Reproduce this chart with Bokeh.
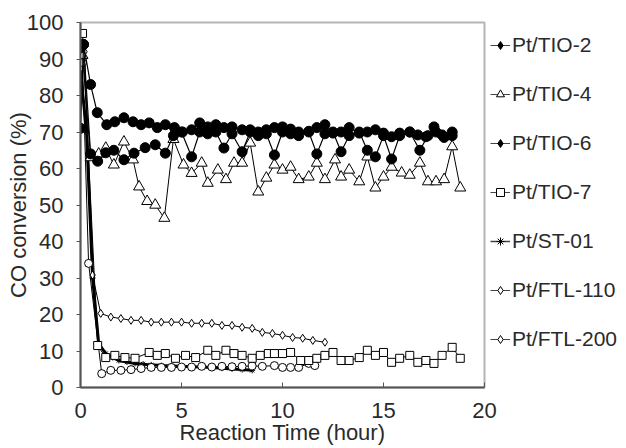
import math
from bokeh.plotting import figure
from bokeh.models import Legend, LegendItem, SingleIntervalTicker, Range1d
from bokeh.embed import file_html
from bokeh.resources import INLINE

# ---------------- data ----------------
tio2_t = [0.0, 0.15, 0.5, 0.83, 1.3, 1.7, 2.15, 2.6, 3.0, 3.4, 3.8, 4.2, 4.65, 5.05, 5.5, 5.9, 6.3, 6.7,
          7.1, 7.5, 8.0, 8.4, 8.8, 9.2, 9.6, 10.0, 10.4, 10.8, 11.3, 11.7, 12.1, 12.5, 12.9, 13.3, 13.8,
          14.2, 14.6, 15.0, 15.4, 15.8, 16.3, 16.7, 17.1, 17.5, 17.9, 18.4]
tio2_v = [71, 94, 83, 75.3, 72, 72.8, 73.9, 72.8, 72, 72.5, 71.2, 72, 71.2, 70, 70.6, 72.5, 71.4, 72,
          71.2, 71.4, 70.6, 70.6, 70, 70.6, 71.2, 71.4, 70.8, 70, 70.2, 71.2, 72, 69.7, 70, 71.2, 69.7,
          70, 70.6, 69.7, 68.7, 69.7, 70, 69.2, 68.7, 71.4, 69.2, 70]

tio4_t = [0.1, 0.5, 0.9, 1.25, 1.65, 2.15, 2.6, 2.9, 3.3, 3.7, 4.15, 4.6, 5.1, 5.5, 6.0, 6.3, 6.8, 7.2,
          7.6, 8.0, 8.4, 8.8, 9.2, 9.6, 10.0, 10.4, 10.8, 11.3, 11.7, 12.1, 12.6, 12.9, 13.3, 13.8, 14.2,
          14.6, 15.0, 15.4, 15.9, 16.3, 16.8, 17.2, 17.6, 18.0, 18.4, 18.8]
tio4_v = [91, 63, 64, 65.6, 61, 67.3, 62.4, 55, 51, 50, 46.4, 68, 61, 58.7, 61.5, 56, 59.6, 57,
          61.5, 61.5, 67, 53.6, 57.4, 61, 59.6, 60.4, 57, 57.7, 61.5, 57, 62.4, 57.7, 59.6, 56.4, 63.2,
          54.7, 57.7, 60.4, 58.8, 58.2, 61.5, 56.4, 56.4, 57, 66, 54.7]

tio6_t = [0.0, 0.15, 0.5, 0.85, 1.25, 1.65, 2.15, 2.65, 3.2, 3.7, 4.2, 4.6, 5.0, 5.5, 5.9, 6.3, 6.7,
          7.1, 7.5, 8.0, 8.4, 8.8, 9.2, 9.6, 10.0, 10.4, 10.8, 11.3, 11.7, 12.1, 12.5, 12.9, 13.3, 13.8,
          14.2, 14.6, 15.0, 15.4, 15.8, 16.3, 16.8, 17.2, 17.6, 18.0, 18.4]
tio6_v = [93, 94, 64, 62, 64.3, 65, 62.4, 64.2, 65.7, 66.5, 64.2, 69, 70, 63.2, 70, 69.5, 70,
          65.6, 69.5, 64.6, 70, 69, 69.5, 63.7, 70, 69.5, 69, 70, 64, 69.5, 70, 64.6, 69, 70,
          65, 63.2, 69, 62.6, 69, 70, 65, 69, 70, 68.5, 69]

tio7_t = [0.1, 0.85, 1.25, 1.7, 2.2, 2.7, 3.4, 3.8, 4.2, 4.7, 5.2, 5.7, 6.3, 6.7, 7.2, 7.6, 8.0, 8.5,
          8.9, 9.3, 9.6, 10.0, 10.4, 10.9, 11.3, 11.7, 12.1, 12.5, 12.9, 13.3, 13.8, 14.2, 14.6, 15.0,
          15.4, 15.8, 16.3, 16.7, 17.1, 17.5, 17.9, 18.4, 18.8]
tio7_v = [97, 11.5, 8.2, 8.8, 8.2, 8, 9.6, 8.8, 9.3, 8, 8.8, 8.2, 10.2, 8.8, 10.2, 9.3, 8.8, 8,
          8.8, 9.3, 9.3, 9.3, 9.6, 7.4, 7.4, 8, 8.8, 9.6, 7.4, 7.4, 8.2, 10.2, 8.8, 9.6,
          6.9, 8, 8.8, 6.9, 7.4, 6.6, 8.8, 11, 8]

st01_t = [0.0, 0.3, 0.6, 0.9, 1.25, 1.6, 1.9, 2.3, 2.7, 3.1, 3.5, 4.0, 4.5, 5.0, 5.5, 6.0, 6.5, 7.0,
          7.5, 8.0, 8.5]
st01_v = [86.5, 70, 30, 12, 9.3, 8.2, 7.4, 7.0, 6.6, 6.4, 6.2, 6.0, 5.9, 5.8, 5.7, 5.6, 5.5, 5.3,
          5.1, 4.9, 4.7]

ftl110_t = [0.1, 0.4, 1.05, 1.5, 2.0, 2.5, 3.0, 3.5, 4.0, 4.5, 5.0, 5.5, 6.0, 6.5, 7.0, 7.5, 8.0, 8.5,
            9.0, 9.6, 10.0, 10.4, 10.8, 11.3, 11.6]
ftl110_v = [89, 34, 3.8, 4.7, 4.7, 4.9, 5.2, 5.5, 5.5, 5.5, 5.6, 5.6, 5.8, 5.6, 5.8, 5.7, 5.8, 5.9,
            5.8, 6.0, 5.5, 5.5, 5.5, 6.6, 6.0]

ftl200_t = [0.2, 0.6, 1.0, 1.5, 2.0, 2.5, 3.0, 3.5, 4.0, 4.5, 5.0, 5.5, 6.0, 6.5, 7.0, 7.5, 8.0, 8.5,
            9.0, 9.5, 10.0, 10.5, 11.0, 11.5, 12.1]
ftl200_v = [92, 30.8, 20.3, 19.3, 18.9, 18.4, 18.4, 17.9, 17.9, 17.9, 17.9, 17.6, 17.6, 17.6, 17.0,
            17.0, 16.5, 16.2, 15.1, 14.8, 14.3, 13.7, 13.5, 12.9, 12.4]

labels = ["Pt/TIO-2", "Pt/TIO-4", "Pt/TIO-6", "Pt/TIO-7", "Pt/ST-01", "Pt/FTL-110", "Pt/FTL-200"]
y_ticks_interval = 10
x_ticks_interval = 5

# ---------------- figure ----------------
FONT = "Liberation Sans"
TXT = "#2a2a2a"

p = figure(frame_width=404, frame_height=365, output_backend="svg", toolbar_location=None,
           x_range=Range1d(0, 20), y_range=Range1d(0, 100),
           min_border_left=80, min_border_right=10, min_border_top=22, min_border_bottom=61)
p.xgrid.visible = False
p.ygrid.visible = False
p.outline_line_color = "#b5b5b5"
p.outline_line_width = 2
p.background_fill_color = "white"

p.xaxis.ticker = SingleIntervalTicker(interval=x_ticks_interval)
p.yaxis.ticker = SingleIntervalTicker(interval=y_ticks_interval)
for ax in (p.xaxis, p.yaxis):
    ax.axis_line_color = "#555555"
    ax.axis_line_width = 2
    ax.major_tick_line_color = "#555555"
    ax.minor_tick_line_color = None
    ax.major_label_text_font = FONT
    ax.major_label_text_font_size = "22px"
    ax.major_label_text_color = TXT
    ax.axis_label_text_font = FONT
    ax.axis_label_text_font_size = "22px"
    ax.axis_label_text_font_style = "normal"
    ax.axis_label_text_color = TXT
p.xaxis.major_tick_in = 5
p.xaxis.major_tick_out = 0
p.xaxis.major_label_standoff = 11
p.xaxis.axis_label = "Reaction Time (hour)"
p.xaxis.axis_label_standoff = -1
p.yaxis.major_tick_in = 0
p.yaxis.major_tick_out = 4
p.yaxis.major_label_standoff = 13
p.yaxis.axis_label = "CO conversion (%)"
p.yaxis.axis_label_standoff = -7

nan = float("nan")

# draw order: bottom first
series = [
    ("Pt/ST-01", st01_t, st01_v, "asterisk", 6, "black", 3),
    ("Pt/FTL-200", ftl200_t, ftl200_v, "diamond", 8, "white", 1),
    ("Pt/FTL-110", ftl110_t, ftl110_v, "circle", 8, "white", 1),
    ("Pt/TIO-7", tio7_t, tio7_v, "square", 8, "white", 1),
    ("Pt/TIO-4", tio4_t, tio4_v, "triangle", 11, "white", 1),
    ("Pt/TIO-6", tio6_t, tio6_v, "circle", 10, "black", 1.2),
    ("Pt/TIO-2", tio2_t, tio2_v, "circle", 10, "black", 1.2),
]
for name, t, v, mk, sz, fc, lw in series:
    p.line(t, v, line_color="black", line_width=lw)
    p.scatter(t, v, marker=mk, size=sz, fill_color=fc, line_color="black", line_width=1)

# legend-only glyphs
legend_style = {
    "Pt/TIO-2": ("diamond", "black", 1),
    "Pt/TIO-4": ("triangle", "white", 1),
    "Pt/TIO-6": ("diamond", "black", 1),
    "Pt/TIO-7": ("square", "white", 1),
    "Pt/ST-01": ("asterisk", "black", 1.5),
    "Pt/FTL-110": ("diamond", "white", 1),
    "Pt/FTL-200": ("diamond", "white", 1),
}
items = []
for lab in labels:
    mk, fc, lw = legend_style[lab]
    rl = p.line([nan], [nan], line_color="#444444", line_width=lw)
    rs = p.scatter([nan], [nan], marker=mk, fill_color=fc, line_color="black", line_width=1)
    items.append(LegendItem(label=lab, renderers=[rl, rs]))

legend = Legend(items=items, location="top_left", orientation="vertical",
                glyph_width=20, glyph_height=34, label_height=34, label_standoff=2,
                spacing=15, padding=0, margin=6, border_line_color=None,
                background_fill_alpha=0, label_text_font=FONT,
                label_text_font_size="21px", label_text_color=TXT)
p.add_layout(legend, "right")

open("out.html", "w").write(file_html(p, INLINE))
